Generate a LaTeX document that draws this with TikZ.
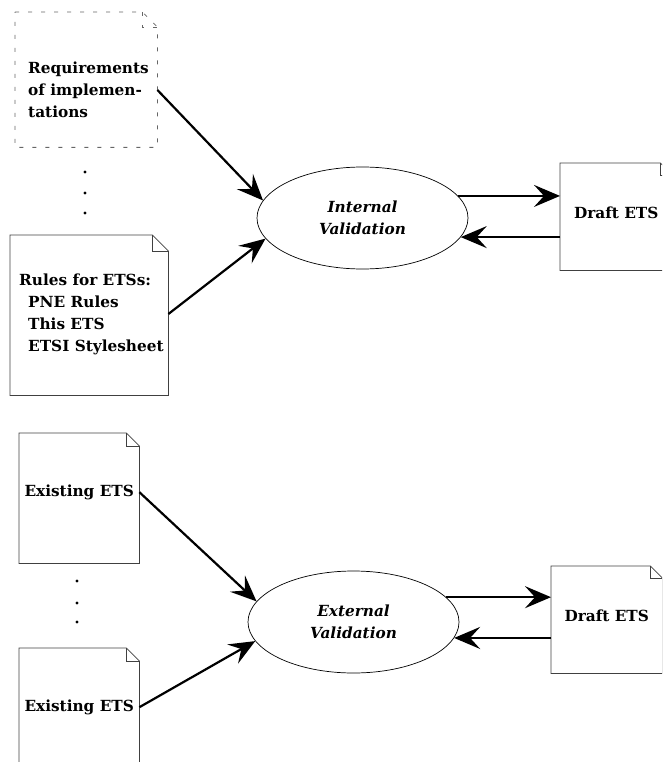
\documentclass[tikz,border=0pt]{standalone}
\usepackage{fontspec}
\setmainfont{DejaVu Serif}
\usetikzlibrary{shapes.geometric,arrows.meta,calc}

\tikzset{
  docbox/.style={rectangle, draw=none, inner sep=0pt, anchor=north west},
  docline/.style={draw=black!75, line width=0.8pt},
  reqline/.style={draw=black!60, line width=0.8pt, dash pattern=on 4pt off 9pt},
  lbl/.style={inner sep=0pt, align=left, font=\fontsize{15.3}{22}\selectfont\bfseries},
  procbox/.style={ellipse, draw=black, line width=0.7pt, inner sep=0pt,
    minimum width=211pt, minimum height=102pt, align=center,
    font=\fontsize{15.3}{21.5}\selectfont\bfseries\itshape},
  flow/.style={line width=2.2pt, -{Stealth[length=26pt,width=22pt,inset=10pt]}},
  dotmark/.style={fill=black}
}

% outline of a document with a folded top-right corner
\newcommand\docoutline[3]{%
  \draw[#3] (#1.north west) -- ($(#1.north east)+(-#2,0)$) -- ($(#1.north east)+(0,#2)$)
    -- (#1.south east) -- (#1.south west) -- cycle;
  \draw[#3] ($(#1.north east)+(-#2,0)$) -- ($(#1.north east)+(-#2,#2)$) -- ($(#1.north east)+(0,#2)$);
}

\begin{document}
\begin{tikzpicture}[x=1pt, y=-1pt]
  \clip (0,0) rectangle (662,762);

  % ---------- internal validation ----------
  \node[docbox, minimum width=142pt, minimum height=135pt] (req) at (15,12) {};
  \docoutline{req}{15}{reqline}
  \node[lbl, anchor=west] (reqtxt) at (28,90) {Requirements\\of implemen-\\tations};

  \fill[dotmark] (85,172) circle (1.6);
  \fill[dotmark] (85,193) circle (1.6);
  \fill[dotmark] (85,213) circle (1.6);

  \node[docbox, minimum width=158pt, minimum height=160pt] (rules) at (10,235) {};
  \docoutline{rules}{16}{docline}
  \node[lbl, anchor=west] (rulestxt) at (19,314)
    {Rules for ETSs:\\\hspace*{9pt}PNE Rules\\\hspace*{9pt}This ETS\\\hspace*{9pt}ETSI Stylesheet};

  \node[procbox] (intv) at (362.5,218) {Internal\\Validation};

  \node[docbox, minimum width=112pt, minimum height=107pt] (drafta) at (560,163) {};
  \docoutline{drafta}{12}{docline}
  \node[lbl] (draftatxt) at ($(drafta.center)+(0,-4)$) {Draft ETS};

  \draw[flow] (reqtxt -| req.east) -- (intv.170.8);
  \draw[flow] (rulestxt -| rules.east) -- (intv.192.6);
  \draw[flow] (intv.13.75) -- (intv.13.75 -| drafta.west);
  \draw[flow] (intv.-11 -| drafta.west) -- (intv.-11);

  % ---------- external validation ----------
  \node[docbox, minimum width=120pt, minimum height=130pt] (exa) at (19,433) {};
  \docoutline{exa}{13}{docline}
  \node[lbl] (exatxt) at ($(exa.center)+(0,-6)$) {Existing ETS};

  \fill[dotmark] (77,581) circle (1.6);
  \fill[dotmark] (77,603) circle (1.6);
  \fill[dotmark] (77,622) circle (1.6);

  \node[docbox, minimum width=120pt, minimum height=130pt] (exb) at (19,648) {};
  \docoutline{exb}{13}{docline}
  \node[lbl] (exbtxt) at ($(exb.center)+(0,-6)$) {Existing ETS};

  \node[procbox] (extv) at (353.5,622) {External\\Validation};

  \node[docbox, minimum width=111pt, minimum height=107pt] (draftb) at (551,566) {};
  \docoutline{draftb}{12}{docline}
  \node[lbl] (draftbtxt) at ($(draftb.center)+(0,-4)$) {Draft ETS};

  \draw[flow] (exatxt -| exa.east) -- (extv.168.2);
  \draw[flow] (exbtxt -| exb.east) -- (extv.191);
  \draw[flow] (extv.15.1) -- (extv.15.1 -| draftb.west);
  \draw[flow] (extv.-9.1 -| draftb.west) -- (extv.-9.1);
\end{tikzpicture}
\end{document}
